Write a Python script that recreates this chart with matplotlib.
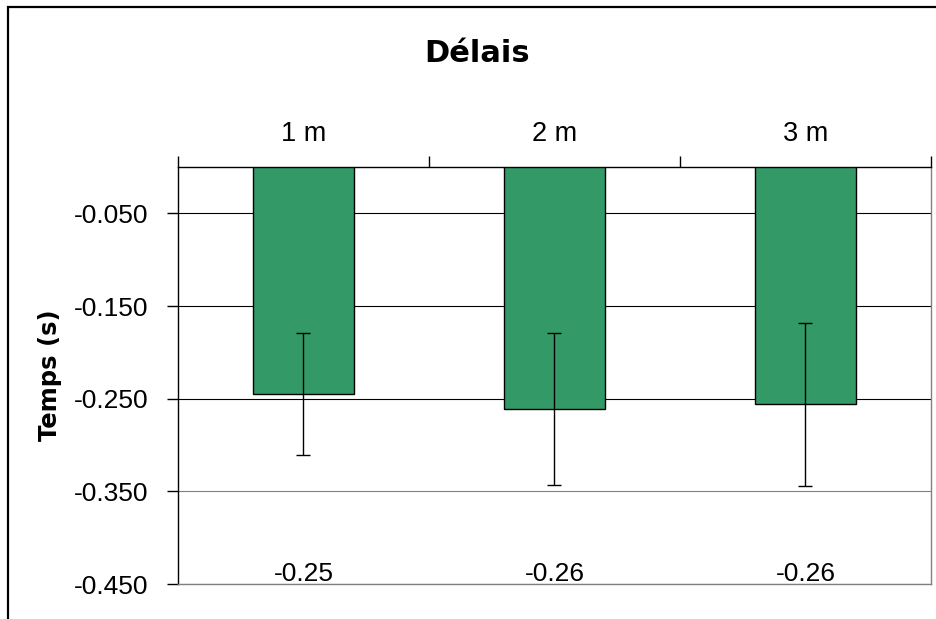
import numpy as np
import matplotlib.pyplot as plt
from matplotlib.patches import Rectangle

categories = ['1 m', '2 m', '3 m']
means = [-0.245, -0.261, -0.256]
errors = [0.066, 0.082, 0.088]
value_labels = ['-0.25', '-0.26', '-0.26']
yticks = [-0.05, -0.15, -0.25, -0.35, -0.45]
ytick_labels = ['-0.050', '-0.150', '-0.250', '-0.350', '-0.450']

fig = plt.figure(figsize=(9.37, 6.19), dpi=100)
ax = fig.add_axes([178/937, 35/619, 753/937, 417/619])

x = np.arange(len(categories))
ax.bar(x, means, width=0.4, color='#339966', edgecolor='black', linewidth=1.0, zorder=3)
ax.errorbar(x, means, yerr=errors, fmt='none', ecolor='black', elinewidth=1.0,
            capsize=4.7, capthick=1.0, zorder=4)

ax.set_xlim(-0.5, 2.5)
ax.set_ylim(-0.45, 0)

# y axis
ax.set_yticks(yticks)
ax.set_yticklabels(ytick_labels, family='Liberation Sans', fontsize=19)
ax.tick_params(axis='y', direction='out', length=8, width=1, pad=13)
ax.yaxis.grid(True, color='black', linewidth=0.8, zorder=0)
grid_cols = ['black', 'black', 'black', '#808080', '#808080']
for gl, c in zip(ax.yaxis.get_gridlines(), grid_cols):
    gl.set_color(c)

# x axis on top, ticks at category boundaries, labels at centres
ax.xaxis.tick_top()
ax.set_xticks(np.arange(-0.5, 3, 1.0))
ax.set_xticklabels([])
ax.set_xticks(x, minor=True)
ax.set_xticklabels(categories, minor=True, family='Liberation Sans', fontsize=19.5)
ax.tick_params(axis='x', which='major', direction='out', length=8, width=1)
ax.tick_params(axis='x', which='minor', length=0, pad=14.5)

ax.spines['left'].set_color('black')
ax.spines['top'].set_color('black')
ax.spines['right'].set_color('#808080')
ax.spines['bottom'].set_color('#808080')
for s in ax.spines.values():
    s.set_linewidth(1.0)

for i, lab in enumerate(value_labels):
    ax.annotate(lab, (x[i], -0.45), xytext=(0, 2.2), textcoords='offset points',
                ha='center', va='baseline', family='Liberation Sans', fontsize=19)

fig.text(477/937, 1 - 61.7/619, 'Délais', ha='center', va='baseline',
         family='DejaVu Sans', fontweight='bold', fontsize=22)
fig.text(50/937, 1 - 375/619, 'Temps (s)', ha='center', va='center', rotation=90,
         family='DejaVu Sans', fontweight='bold', fontsize=17.5)

# outer chart border (clipped by the image edges)
fig.patches.append(Rectangle((8/937, -0.2), 1.2, 1.2 - 7/619, transform=fig.transFigure,
                             fill=False, edgecolor='black', linewidth=1.6))

fig.savefig('out.png', dpi=100)
